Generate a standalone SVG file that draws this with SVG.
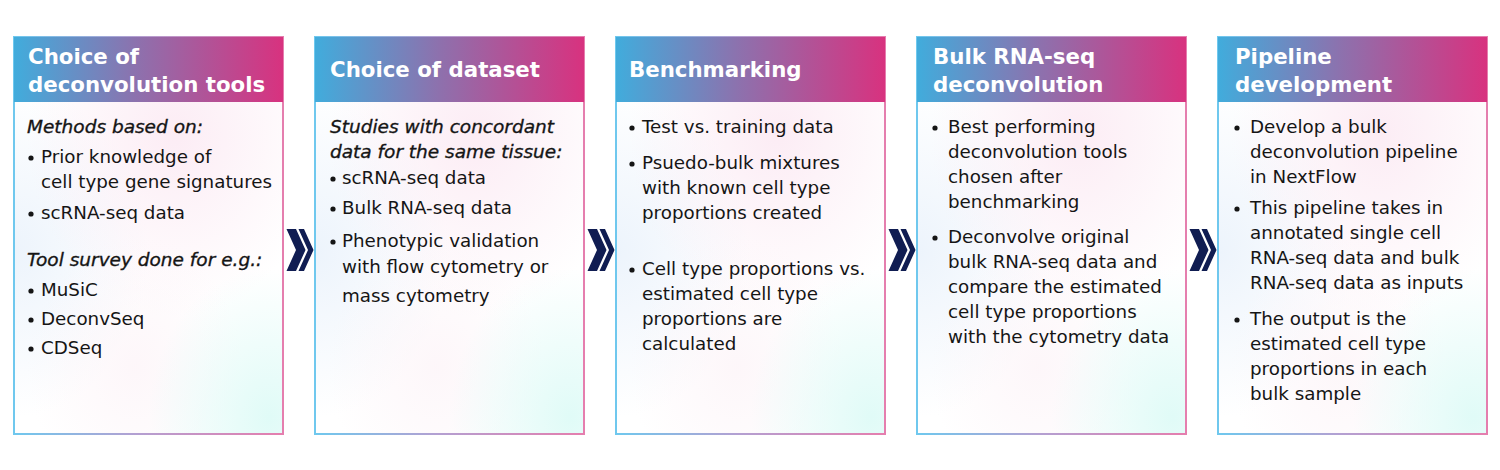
<svg xmlns="http://www.w3.org/2000/svg" width="1500" height="470" viewBox="0 0 1500 470">
<style>
.hd{font-family:"DejaVu Sans","Liberation Sans",sans-serif;font-weight:bold;font-size:21.3px;fill:#ffffff}
.bd{font-family:"DejaVu Sans","Liberation Sans",sans-serif;font-size:18.3px;fill:#151515}
.it{font-family:"DejaVu Sans","Liberation Sans",sans-serif;font-size:18.5px;font-style:italic;fill:#151515;stroke:#151515;stroke-width:0.35}
.dot{fill:#151515}
.hdr{fill:url(#hdrG)}
.body{fill:#ffffff}
.frame{fill:none;stroke:url(#brdG);stroke-width:2}
.chev{fill:#101d52}
</style>
<defs>
<linearGradient id="hdrG" x1="0" y1="0" x2="1" y2="0">
<stop offset="0" stop-color="#41acdc"/>
<stop offset="0.45" stop-color="#8c72ae"/>
<stop offset="1" stop-color="#d8327f"/>
</linearGradient>
<linearGradient id="brdG" x1="0" y1="0" x2="1" y2="0">
<stop offset="0" stop-color="#6fc8ee"/>
<stop offset="0.45" stop-color="#b3a0d2"/>
<stop offset="1" stop-color="#e57eae"/>
</linearGradient>
<radialGradient id="gPink" cx="0.6" cy="0.1" r="0.55">
<stop offset="0" stop-color="#fbe6f1" stop-opacity="0.75"/>
<stop offset="1" stop-color="#fbe6f1" stop-opacity="0"/>
</radialGradient>
<radialGradient id="gBlue" cx="0" cy="0.45" r="0.5">
<stop offset="0" stop-color="#e8f1fb" stop-opacity="0.8"/>
<stop offset="1" stop-color="#e8f1fb" stop-opacity="0"/>
</radialGradient>
<radialGradient id="gCyan" cx="0.95" cy="0.95" r="0.45">
<stop offset="0" stop-color="#e0fbf7" stop-opacity="1"/>
<stop offset="1" stop-color="#e0fbf7" stop-opacity="0"/>
</radialGradient>
<radialGradient id="gPink2" cx="0.45" cy="0.8" r="0.4">
<stop offset="0" stop-color="#fcf1f6" stop-opacity="0.6"/>
<stop offset="1" stop-color="#fcf1f6" stop-opacity="0"/>
</radialGradient>
<path id="chev" d="M-13,-21 H-3.5 L6,0 L-3.5,21 H-13 L-3.5,0 Z M-1,-21 H4.5 L14,0 L4.5,21 H-1 L8.5,0 Z"/>
<g id="card">
<rect class="body" x="0" y="0" width="269" height="397"/>
<rect x="0" y="65" width="269" height="332" fill="url(#gBlue)"/>
<rect x="0" y="65" width="269" height="332" fill="url(#gPink)"/>
<rect x="0" y="65" width="269" height="332" fill="url(#gPink2)"/>
<rect x="0" y="65" width="269" height="332" fill="url(#gCyan)"/>
<rect class="frame" x="0" y="0" width="269" height="397"/>
<rect class="hdr" x="0" y="0" width="269" height="65"/>
</g>
</defs>

<g id="node-tools" transform="translate(14,37)">
<use href="#card"/>
<text class="hd" x="14" y="27">Choice of</text>
<text class="hd" x="14" y="55">deconvolution tools</text>
<text class="it" x="13" y="96">Methods based on:</text>
<circle class="dot" cx="17" cy="121" r="2.6"/>
<text class="bd" x="27" y="126">Prior knowledge of</text>
<text class="bd" x="27" y="151">cell type gene signatures</text>
<circle class="dot" cx="17" cy="177" r="2.6"/>
<text class="bd" x="27" y="182">scRNA-seq data</text>
<text class="it" x="13" y="229">Tool survey done for e.g.:</text>
<circle class="dot" cx="17" cy="254" r="2.6"/>
<text class="bd" x="27" y="259">MuSiC</text>
<circle class="dot" cx="17" cy="283" r="2.6"/>
<text class="bd" x="27" y="288">DeconvSeq</text>
<circle class="dot" cx="17" cy="312" r="2.6"/>
<text class="bd" x="27" y="317">CDSeq</text>
</g>

<g id="node-dataset" transform="translate(315,37)">
<use href="#card"/>
<text class="hd" x="15" y="40">Choice of dataset</text>
<text class="it" x="15" y="96">Studies with concordant</text>
<text class="it" x="15" y="121">data for the same tissue:</text>
<circle class="dot" cx="18" cy="142" r="2.6"/>
<text class="bd" x="27" y="147">scRNA-seq data</text>
<circle class="dot" cx="18" cy="172" r="2.6"/>
<text class="bd" x="27" y="177">Bulk RNA-seq data</text>
<circle class="dot" cx="18" cy="205" r="2.6"/>
<text class="bd" x="27" y="210">Phenotypic validation</text>
<text class="bd" x="27" y="236">with flow cytometry or</text>
<text class="bd" x="27" y="265">mass cytometry</text>
</g>

<g id="node-benchmarking" transform="translate(616,37)">
<use href="#card"/>
<text class="hd" x="13" y="40">Benchmarking</text>
<circle class="dot" cx="16" cy="91" r="2.6"/>
<text class="bd" x="26" y="96">Test vs. training data</text>
<circle class="dot" cx="16" cy="127" r="2.6"/>
<text class="bd" x="26" y="132">Psuedo-bulk mixtures</text>
<text class="bd" x="26" y="157">with known cell type</text>
<text class="bd" x="26" y="182">proportions created</text>
<circle class="dot" cx="16" cy="233" r="2.6"/>
<text class="bd" x="26" y="238">Cell type proportions vs.</text>
<text class="bd" x="26" y="263">estimated cell type</text>
<text class="bd" x="26" y="288">proportions are</text>
<text class="bd" x="26" y="313">calculated</text>
</g>

<g id="node-deconvolution" transform="translate(917,37)">
<use href="#card"/>
<text class="hd" x="16" y="27">Bulk RNA-seq</text>
<text class="hd" x="16" y="55">deconvolution</text>
<circle class="dot" cx="18" cy="91" r="2.6"/>
<text class="bd" x="31" y="96">Best performing</text>
<text class="bd" x="31" y="121">deconvolution tools</text>
<text class="bd" x="31" y="146">chosen after</text>
<text class="bd" x="31" y="171">benchmarking</text>
<circle class="dot" cx="18" cy="201" r="2.6"/>
<text class="bd" x="31" y="206">Deconvolve original</text>
<text class="bd" x="31" y="231">bulk RNA-seq data and</text>
<text class="bd" x="31" y="256">compare the estimated</text>
<text class="bd" x="31" y="281">cell type proportions</text>
<text class="bd" x="31" y="306">with the cytometry data</text>
</g>

<g id="node-pipeline" transform="translate(1218,37)">
<use href="#card"/>
<text class="hd" x="17" y="27">Pipeline</text>
<text class="hd" x="17" y="55">development</text>
<circle class="dot" cx="19" cy="91" r="2.6"/>
<text class="bd" x="32" y="96">Develop a bulk</text>
<text class="bd" x="32" y="121">deconvolution pipeline</text>
<text class="bd" x="32" y="146">in NextFlow</text>
<circle class="dot" cx="19" cy="172" r="2.6"/>
<text class="bd" x="32" y="177">This pipeline takes in</text>
<text class="bd" x="32" y="202">annotated single cell</text>
<text class="bd" x="32" y="227">RNA-seq data and bulk</text>
<text class="bd" x="32" y="252">RNA-seq data as inputs</text>
<circle class="dot" cx="19" cy="283" r="2.6"/>
<text class="bd" x="32" y="288">The output is the</text>
<text class="bd" x="32" y="313">estimated cell type</text>
<text class="bd" x="32" y="338">proportions in each</text>
<text class="bd" x="32" y="363">bulk sample</text>
</g>

<g id="connectors">
<use href="#chev" class="chev" x="299.5" y="250"/>
<use href="#chev" class="chev" x="600.5" y="250"/>
<use href="#chev" class="chev" x="901.5" y="250"/>
<use href="#chev" class="chev" x="1202.5" y="250"/>
</g>
</svg>
